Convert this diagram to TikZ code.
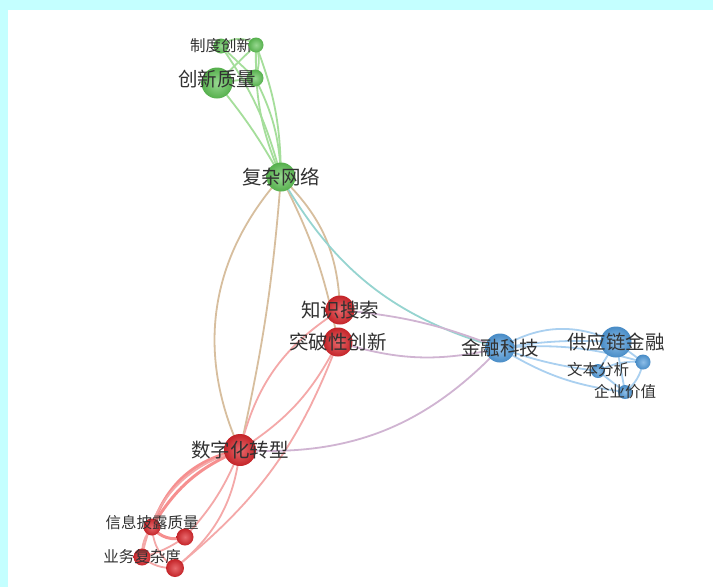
\documentclass[tikz,border=0pt]{standalone}
\usepackage{fontspec}
\usepackage{xcolor}
\usetikzlibrary{backgrounds,shadings}
\newfontfamily\cjk{Noto Sans CJK SC}

\definecolor{framecyan}{RGB}{196,255,255}
\definecolor{gball}{RGB}{95,195,85}
\definecolor{rball}{RGB}{222,40,45}
\definecolor{bball}{RGB}{80,155,220}
\definecolor{gedge}{RGB}{165,222,155}
\definecolor{redge}{RGB}{244,168,168}
\definecolor{bedge}{RGB}{170,208,240}
\definecolor{gredge}{RGB}{215,190,158}
\definecolor{gbedge}{RGB}{150,212,208}
\definecolor{rbedge}{RGB}{208,180,210}
\definecolor{labeltext}{RGB}{50,50,50}

\begin{document}
\begin{tikzpicture}[
			x=1pt, y=-1pt,
			ballnode/.style={circle, inner sep=0pt},
			hub/.style={ballnode, minimum size=29pt},
			leaf/.style={ballnode, minimum size=15pt},
			greenball/.style={inner color=gball!65!white, outer color=gball!90!black},
			redball/.style={inner color=rball!70!white, outer color=rball!88!black},
			blueball/.style={inner color=bball!65!white, outer color=bball!90!black},
			biglabel/.style={font=\cjk\fontsize{19.5}{20}\selectfont, text=labeltext, inner sep=0pt},
			smalllabel/.style={font=\cjk\fontsize{15.5}{16}\selectfont, text=labeltext, inner sep=0pt},
			link/.style={line width=1.8pt},
			heavylink/.style={line width=3pt}
			]
			
			% Frame
			\begin{scope}[on background layer]
				\fill[framecyan] (0,0) rectangle (713,587);
				\fill[white] (8,10) rectangle (713,587);
			\end{scope}
			
			% Green cluster
			\node[leaf, greenball, label={[smalllabel]center:制度创新}] (zhidu) at (221,46) {};
			\node[leaf, greenball] (g2) at (256,45) {};
			\node[leaf, greenball, minimum size=17pt] (g3) at (255,78) {};
			\node[hub, greenball, minimum size=31pt, label={[biglabel, yshift=4pt]center:创新质量}] (chuangxin) at (217,83) {};
			\node[hub, greenball, label={[biglabel]center:复杂网络}] (fuza) at (281,177) {};
			
			% Red cluster
			\node[hub, redball, label={[biglabel]center:知识搜索}] (zhishi) at (340,310) {};
			\node[hub, redball, label={[biglabel]center:突破性创新}] (tupo) at (338,342) {};
			\node[hub, redball, minimum size=32pt, label={[biglabel]center:数字化转型}] (shuzi) at (240,450) {};
			\node[leaf, redball, minimum size=17pt, label={[smalllabel, yshift=4pt]center:信息披露质量}] (xinxi) at (152,527) {};
			\node[leaf, redball, minimum size=17pt] (r3) at (185,537) {};
			\node[leaf, redball, minimum size=17pt, label={[smalllabel]center:业务复杂度}] (yewu) at (142,557) {};
			\node[leaf, redball, minimum size=18pt] (r4) at (175,568) {};
			
			% Blue cluster
			\node[hub, blueball, label={[biglabel]center:金融科技}] (jinrong) at (500,348) {};
			\node[hub, blueball, minimum size=31pt, label={[biglabel]center:供应链金融}] (gongying) at (616,342) {};
			\node[leaf, blueball] (b3) at (643,362) {};
			\node[leaf, blueball, minimum size=14pt, label={[smalllabel, yshift=1pt]center:文本分析}] (wenben) at (598,371) {};
			\node[leaf, blueball, minimum size=14pt, label={[smalllabel]center:企业价值}] (qiye) at (625,392) {};
			
			% Links
			\begin{scope}[on background layer]
				% inside the green cluster
				\draw[link, gedge] (zhidu.center) to[bend left=40] (g2.center);
				\draw[link, gedge] (zhidu.center) to (g3.center);
				\draw[link, gedge] (g2.center) to[bend left=20] (g3.center);
				\draw[link, gedge] (g2.center) to (chuangxin.center);
				\draw[link, gedge] (chuangxin.center) to (g3.center);
				\draw[link, gedge] (zhidu.center) to[bend left=10] (fuza.center);
				\draw[link, gedge] (g2.center) to[bend right=12] (fuza.center);
				\draw[link, gedge] (g2.center) to[bend left=10] (fuza.center);
				\draw[link, gedge] (g3.center) to[bend left=12] (fuza.center);
				\draw[link, gedge] (chuangxin.center) to[bend left=5] (fuza.center);
				
				% green to red and blue
				\draw[link, gredge] (fuza.center) to[bend right=33] (shuzi.center);
				\draw[link, gredge] (fuza.center) to[bend left=4] (shuzi.center);
				\draw[link, gredge] (fuza.center) to[bend left=22] (zhishi.center);
				\draw[link, gredge] (fuza.center) to[bend left=8] (tupo.center);
				\draw[link, gbedge] (fuza.center) to[bend right=22] (jinrong.center);
				
				% inside the red cluster
				\draw[link, redge] (zhishi.center) to[bend right=22] (shuzi.center);
				\draw[link, redge] (tupo.center) to[bend left=15] (shuzi.center);
				\draw[link, redge] (r4.center) to[bend right=15] (tupo.center);
				\draw[heavylink, redge!85!red] (shuzi.center) to[bend right=18] (xinxi.center);
				\draw[heavylink, redge!85!red] (shuzi.center) to[bend right=30] (xinxi.center);
				\draw[link, redge] (shuzi.center) to[bend right=32] (yewu.center);
				\draw[link, redge] (shuzi.center) to[bend left=10] (r3.center);
				\draw[link, redge] (shuzi.center) to[bend left=22] (r4.center);
				\draw[heavylink, redge!85!red] (xinxi.center) to[bend right=35] (r3.center);
				\draw[link, redge] (xinxi.center) to[bend right=20] (yewu.center);
				\draw[link, redge] (xinxi.center) to[bend right=25] (r4.center);
				\draw[link, redge] (yewu.center) to[bend right=20] (r4.center);
				\draw[link, redge] (yewu.center) to[bend right=10] (r3.center);
				
				% red to blue
				\draw[link, rbedge] (zhishi.center) to[bend left=8] (jinrong.center);
				\draw[link, rbedge] (tupo.center) to[bend right=15] (jinrong.center);
				\draw[link, rbedge] (shuzi.center) to[bend right=25] (jinrong.center);
				
				% inside the blue cluster
				\draw[link, bedge] (jinrong.center) to[bend left=28] (gongying.center);
				\draw[link, bedge] (jinrong.center) to[bend left=6] (gongying.center);
				\draw[link, bedge] (jinrong.center) to[bend right=6] (wenben.center);
				\draw[link, bedge] (jinrong.center) to[bend left=10] (b3.center);
				\draw[link, bedge] (jinrong.center) to[bend right=12] (qiye.center);
				\draw[link, bedge] (gongying.center) to (b3.center);
				\draw[link, bedge] (gongying.center) to (wenben.center);
				\draw[link, bedge] (gongying.center) to (qiye.center);
				\draw[link, bedge] (wenben.center) to (qiye.center);
				\draw[link, bedge] (wenben.center) to[bend left=15] (b3.center);
				\draw[link, bedge] (b3.center) to[bend left=20] (qiye.center);
			\end{scope}
			
			\useasboundingbox (0,0) rectangle (713,587);
		\end{tikzpicture}
\end{document}
